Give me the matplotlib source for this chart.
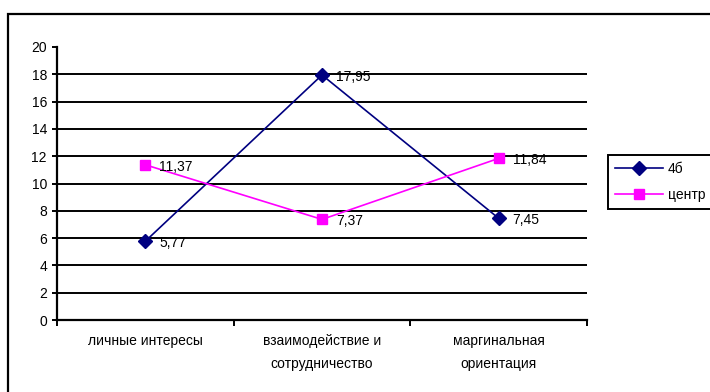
import matplotlib
matplotlib.use("Agg")
from matplotlib import pyplot as plt
from matplotlib.patches import Rectangle
import numpy as np

plt.rcParams["font.family"] = ["Liberation Sans", "DejaVu Sans"]
plt.rcParams["font.size"] = 10

categories = ["личные интересы", "взаимодействие и\nсотрудничество", "маргинальная\nориентация"]
series_4b = [5.77, 17.95, 7.45]
series_center = [11.37, 7.37, 11.84]
labels_4b = ["5,77", "17,95", "7,45"]
labels_center = ["11,37", "7,37", "11,84"]

fig = plt.figure(figsize=(7.1, 3.92), dpi=100)

# outer chart border (right/bottom edges run off the picture)
fig.patches.append(Rectangle((8 / 710, -0.05), 1.0, 1 - 14 / 392 + 0.05,
                             transform=fig.transFigure, fill=False,
                             edgecolor="black", linewidth=1.6))

ax = fig.add_axes([57 / 710, 1 - 320 / 392, 530 / 710, 273 / 392])
x = np.arange(len(categories)) + 0.5

for yv in range(2, 20, 2):
    ax.axhline(yv, color="black", linewidth=1.4, zorder=1)

ax.plot(x, series_4b, color="#000080", marker="D", markersize=7, linewidth=1.2,
        label="4б", zorder=3)
ax.plot(x, series_center, color="#FF00FF", marker="s", markersize=7, linewidth=1.2,
        label="центр", zorder=3)

for xi, yi, t in zip(x, series_4b, labels_4b):
    ax.annotate(t, (xi, yi), xytext=(10, -1.5), textcoords="offset points",
                ha="left", va="center")
for xi, yi, t in zip(x, series_center, labels_center):
    ax.annotate(t, (xi, yi), xytext=(10, -1.5), textcoords="offset points",
                ha="left", va="center")

ax.set_xlim(0, 3)
ax.set_ylim(0, 20)
ax.set_yticks(range(0, 21, 2))
ax.set_xticks(x)
ax.set_xticklabels(categories, linespacing=1.85)
ax.set_xticks([0, 1, 2, 3], minor=True)
ax.tick_params(axis="x", which="major", length=0, pad=10)
ax.tick_params(axis="x", which="minor", length=4, width=1.4, direction="out")
ax.tick_params(axis="y", length=3.6, width=1.4, direction="out", pad=3.6)

for s in ["top", "right"]:
    ax.spines[s].set_visible(False)
for s in ["left", "bottom"]:
    ax.spines[s].set_linewidth(1.6)

leg = ax.legend(loc="upper left",
                bbox_to_anchor=(608 / 710, 1 - 207 / 392, 0.2, 52 / 392),
                bbox_transform=fig.transFigure, mode="expand",
                fancybox=False, framealpha=1, edgecolor="black",
                handlelength=3.45, borderpad=0.5, labelspacing=0.85,
                handletextpad=0.35, borderaxespad=0)
leg.get_frame().set_linewidth(1.4)

fig.savefig("out.png", dpi=100)
